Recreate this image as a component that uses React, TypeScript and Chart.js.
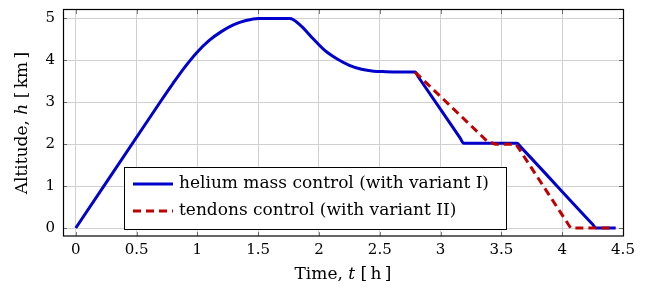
import React, { useEffect, useRef } from "react";
import { Chart, registerables } from "chart.js";

Chart.register(...registerables);

// Time [h] and altitude [km]
const blueT = [0, 0.7, 0.8, 0.9, 1.0, 1.1, 1.2, 1.3, 1.4, 1.5, 1.76, 1.85, 1.95, 2.05, 2.15, 2.25, 2.35, 2.45, 2.55, 2.75, 2.79, 2.82, 3.16, 3.19, 3.22, 3.6, 3.63, 3.66, 4.25, 4.28, 4.31, 4.44];
const blueH = [0, 3.03, 3.45, 3.85, 4.2, 4.48, 4.69, 4.85, 4.95, 5.0, 5.0, 4.83, 4.52, 4.23, 4.03, 3.88, 3.785, 3.74, 3.73, 3.72, 3.72, 3.59, 2.15, 2.02, 2.02, 2.02, 2.02, 1.93, 0.09, 0, 0, 0];
const redT = [2.79, 3.38, 3.45, 3.62, 4.07, 4.42];
const redH = [3.72, 2.08, 2.0, 2.0, 0, 0];

const seriesLabels = ["helium mass control (with variant I)", "tendons control (with variant II)"];
const xTicks = [0, 0.5, 1, 1.5, 2, 2.5, 3, 3.5, 4, 4.5];
const yTicks = [0, 1, 2, 3, 4, 5];
const xTitle = ["Time, ", "t", " [\u2009h\u2009]"];
const yTitle = ["Altitude, ", "h", " [\u2009km\u2009]"];

const BLUE = "#0000cc";
const RED = "#bf0000";
const FAM = "'DejaVu Serif', serif";

function drawMixed(ctx: CanvasRenderingContext2D, parts: string[], size: number) {
  const fonts = parts.map((_, i) => (i === 1 ? `italic ${size}px ${FAM}` : `${size}px ${FAM}`));
  let total = 0;
  const widths = parts.map((p, i) => {
    ctx.font = fonts[i];
    const w = ctx.measureText(p).width;
    total += w;
    return w;
  });
  let x = -total / 2;
  ctx.textAlign = "left";
  ctx.textBaseline = "middle";
  parts.forEach((p, i) => {
    ctx.font = fonts[i];
    ctx.fillText(p, x, 0);
    x += widths[i];
  });
}

const decor = {
  id: "decor",
  afterDatasetsDraw(chart: any) {
    const { ctx, chartArea: a, scales } = chart;
    const xs = scales.x;
    const ys = scales.y;
    ctx.save();
    // inner tick marks
    ctx.strokeStyle = "rgba(0,0,0,0.5)";
    ctx.lineWidth = 1;
    ctx.beginPath();
    xTicks.forEach((v) => {
      const p = Math.round(xs.getPixelForValue(v)) + 0.5;
      ctx.moveTo(p, a.bottom);
      ctx.lineTo(p, a.bottom - 4);
      ctx.moveTo(p, a.top);
      ctx.lineTo(p, a.top + 4);
    });
    yTicks.forEach((v) => {
      const p = Math.round(ys.getPixelForValue(v)) + 0.5;
      ctx.moveTo(a.left, p);
      ctx.lineTo(a.left + 4, p);
      ctx.moveTo(a.right, p);
      ctx.lineTo(a.right - 4, p);
    });
    ctx.stroke();
    // frame
    ctx.strokeStyle = "#000";
    ctx.lineWidth = 1.2;
    ctx.strokeRect(a.left + 0.5, a.top - 0.5, a.right - a.left, a.bottom - a.top + 0.5);

    // legend box
    const bx = a.left + 61;
    const by = a.top + 157;
    const bw = 382;
    const bh = 62;
    ctx.fillStyle = "#fff";
    ctx.fillRect(bx, by, bw, bh);
    ctx.lineWidth = 1;
    ctx.strokeRect(bx + 0.5, by + 0.5, bw, bh);
    const rows = [
      { y: by + 17, color: BLUE, dash: [] as number[] },
      { y: by + 44, color: RED, dash: [8, 5] },
    ];
    rows.forEach((r, i) => {
      ctx.strokeStyle = r.color;
      ctx.lineWidth = 3;
      ctx.setLineDash(r.dash);
      ctx.beginPath();
      ctx.moveTo(bx + 9, r.y);
      ctx.lineTo(bx + 49, r.y);
      ctx.stroke();
      ctx.setLineDash([]);
      ctx.fillStyle = "#000";
      ctx.font = `17px ${FAM}`;
      ctx.textAlign = "left";
      ctx.textBaseline = "middle";
      ctx.fillText(seriesLabels[i], bx + 55, r.y);
    });
    ctx.restore();
  },
  afterDraw(chart: any) {
    const { ctx, chartArea: a } = chart;
    ctx.save();
    ctx.fillStyle = "#000";
    ctx.translate((a.left + a.right) / 2, 275);
    drawMixed(ctx, xTitle, 17);
    ctx.restore();
    ctx.save();
    ctx.fillStyle = "#000";
    ctx.translate(23, (a.top + a.bottom) / 2);
    ctx.rotate(-Math.PI / 2);
    drawMixed(ctx, yTitle, 17);
    ctx.restore();
  },
};

export default function App() {
  const ref = useRef<HTMLCanvasElement | null>(null);
  useEffect(() => {
    if (!ref.current) return;
    const chart = new Chart(ref.current, {
      type: "line",
      data: {
        datasets: [
          {
            label: seriesLabels[0],
            data: blueT.map((t, i) => ({ x: t, y: blueH[i] })),
            borderColor: BLUE,
            borderWidth: 3,
            pointRadius: 0,
            cubicInterpolationMode: "monotone",
            order: 1,
          },
          {
            label: seriesLabels[1],
            data: redT.map((t, i) => ({ x: t, y: redH[i] })),
            borderColor: RED,
            borderWidth: 3,
            borderDash: [8, 5],
            pointRadius: 0,
            tension: 0,
            order: 0,
          },
        ],
      },
      options: {
        responsive: false,
        animation: false,
        devicePixelRatio: 1,
        layout: { padding: { top: 10, right: 23, left: 0, bottom: 0 } },
        plugins: { legend: { display: false }, tooltip: { enabled: false } },
        scales: {
          x: {
            type: "linear",
            min: -0.105,
            max: 4.5,
            afterBuildTicks: (s: any) => {
              s.ticks = xTicks.map((v) => ({ value: v }));
            },
            afterFit: (s: any) => {
              s.height = 54;
              s.paddingLeft = 0;
              s.paddingRight = 0;
              s.paddingTop = 0;
              s.paddingBottom = 0;
            },
            grid: { color: "#d0d0d0", drawTicks: false },
            border: { display: false },
            ticks: {
              color: "#000",
              padding: 5,
              maxRotation: 0,
              autoSkip: false,
              font: { family: FAM, size: 15 },
              callback: (v: any) => String(v),
            },
          },
          y: {
            type: "linear",
            min: -0.19,
            max: 5.2,
            afterBuildTicks: (s: any) => {
              s.ticks = yTicks.map((v) => ({ value: v }));
            },
            afterFit: (s: any) => {
              s.width = 63;
              s.paddingLeft = 0;
              s.paddingRight = 0;
              s.paddingTop = 0;
              s.paddingBottom = 0;
            },
            grid: { color: "#d0d0d0", drawTicks: false },
            border: { display: false },
            ticks: {
              color: "#000",
              padding: 8,
              autoSkip: false,
              font: { family: FAM, size: 15 },
              callback: (v: any) => String(v),
            },
          },
        },
      },
      plugins: [decor],
    });
    return () => chart.destroy();
  }, []);
  return (
    <div style={{ position: "fixed", left: 0, top: 0, width: 646, height: 290, background: "#fff" }}>
      <canvas ref={ref} width={646} height={290} style={{ display: "block" }} />
    </div>
  );
}
